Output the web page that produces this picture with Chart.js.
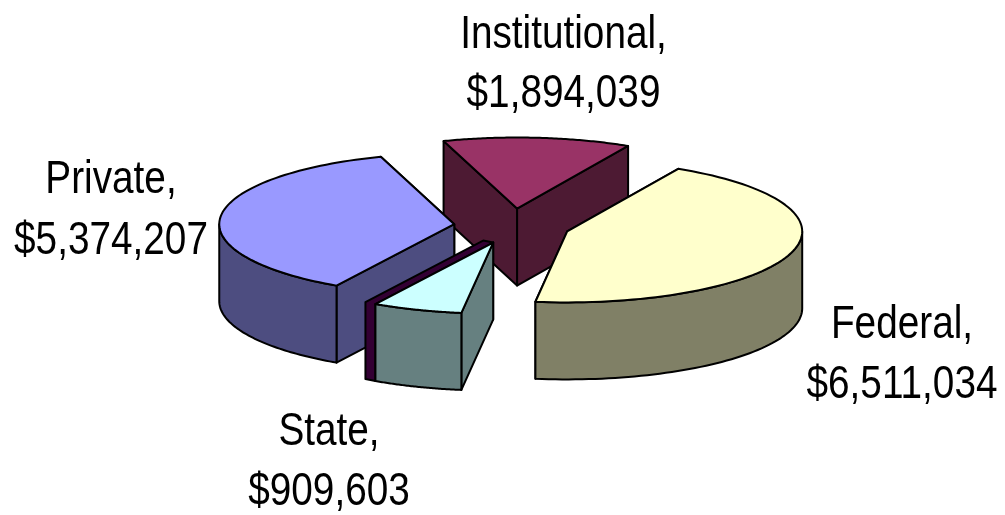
<!DOCTYPE html>
<html>
<head>
<meta charset="utf-8">
<style>html,body{margin:0;padding:0;background:#fff}canvas{display:block}</style>
<script src="https://cdn.jsdelivr.net/npm/chart.js@4"></script>
</head>
<body>
<canvas id="c" width="1005" height="515"></canvas>
<script>
const categories = ['Federal', 'State', 'Private', 'Institutional'];
const values = [6511034, 909603, 5374207, 1894039];
const topColors = ['#FFFFCC', '#CCFFFF', '#9999FF', '#993366'];
const sideColors = ['#808066', '#668080', '#4D4D80', '#4D1A33'];
const paintOrder = [3, 2, 0, 1];

// view of the tilted pie, as style constants
const VIEW = {cx: 512, cy: 226, rx: 235, ry: 71, depth: 77, explode: 0.247, rotation: 28.2};
const LABEL_SPOTS = [[902, 338, 398], [329, 445, 505], [111, 193, 254], [563.5, 48, 107]];
const FONT_PX = 46, FONT_SQUEEZE = 0.842;

function pt(arc, theta, r, drop) {
  const mid = (arc.startAngle + arc.endAngle) / 2;
  return [
    VIEW.cx + VIEW.rx * (VIEW.explode * Math.cos(mid) + r * Math.cos(theta)),
    VIEW.cy + VIEW.ry * (VIEW.explode * Math.sin(mid) + r * Math.sin(theta)) + drop
  ];
}
function poly(ctx, pts, fill) {
  ctx.beginPath();
  pts.forEach((p, i) => i ? ctx.lineTo(p[0], p[1]) : ctx.moveTo(p[0], p[1]));
  ctx.closePath();
  ctx.fillStyle = fill;
  ctx.fill();
  ctx.stroke();
}
function radialWall(ctx, arc, theta, fill) {
  const d = VIEW.depth;
  poly(ctx, [pt(arc, 0, 0, 0), pt(arc, theta, 1, 0), pt(arc, theta, 1, d), pt(arc, 0, 0, d)], fill);
}
function outerWall(ctx, arc, fill) {
  const a = Math.max(arc.startAngle, 0), b = Math.min(arc.endAngle, Math.PI);
  if (b <= a) return;
  const n = 60, up = [], down = [];
  for (let i = 0; i <= n; i++) {
    const t = a + (b - a) * i / n;
    up.push(pt(arc, t, 1, 0));
    down.unshift(pt(arc, t, 1, VIEW.depth));
  }
  poly(ctx, up.concat(down), fill);
}
function topOutline(ctx, arc) {
  const n = 80;
  ctx.beginPath();
  let p = pt(arc, 0, 0, 0);
  ctx.moveTo(p[0], p[1]);
  for (let i = 0; i <= n; i++) {
    p = pt(arc, arc.startAngle + (arc.endAngle - arc.startAngle) * i / n, 1, 0);
    ctx.lineTo(p[0], p[1]);
  }
  ctx.closePath();
  ctx.stroke();
}
const pie3d = {
  id: 'pie3d',
  beforeDatasetDraw(chart, args) {
    const ctx = chart.ctx;
    const arcs = chart.getDatasetMeta(args.index).data;
    ctx.save();
    ctx.lineWidth = 2;
    ctx.lineJoin = 'round';
    ctx.strokeStyle = '#000';
    paintOrder.forEach(i => {
      const arc = arcs[i];
      const mid = (arc.startAngle + arc.endAngle) / 2;
      if (i === 1) {
        // dark inner face standing behind the State slice
        const s = (p) => [p[0] - 10, p[1] - 2];
        const d = VIEW.depth;
        poly(ctx, [s(pt(arc, 0, 0, 0)), s(pt(arc, arc.endAngle, 1, 0)),
                   s(pt(arc, arc.endAngle, 1, d)), pt(arc, arc.endAngle, 1, d),
                   pt(arc, 0, 0, 0)], '#330033');
      }
      radialWall(ctx, arc, arc.endAngle, sideColors[i]);
      radialWall(ctx, arc, arc.startAngle, sideColors[i]);
      outerWall(ctx, arc, sideColors[i]);
      // top face: the library's own arc, under the tilt transform
      ctx.save();
      const R = arc.outerRadius;
      ctx.translate(VIEW.cx + VIEW.rx * VIEW.explode * Math.cos(mid),
                    VIEW.cy + VIEW.ry * VIEW.explode * Math.sin(mid));
      ctx.scale(VIEW.rx / R, VIEW.ry / R);
      ctx.translate(-arc.x, -arc.y);
      arc.draw(ctx);
      ctx.restore();
      topOutline(ctx, arc);
    });
    ctx.restore();
    return false;
  },
  afterDraw(chart) {
    const ctx = chart.ctx;
    ctx.save();
    ctx.fillStyle = '#000';
    ctx.textAlign = 'center';
    ctx.textBaseline = 'alphabetic';
    ctx.font = FONT_PX + 'px "Liberation Sans", Arial, sans-serif';
    categories.forEach((name, i) => {
      const [x, y1, y2] = LABEL_SPOTS[i];
      ctx.save();
      ctx.translate(x, 0);
      ctx.scale(FONT_SQUEEZE, 1);
      ctx.fillText(name + ',', 0, y1);
      ctx.fillText('$' + values[i].toLocaleString('en-US'), 0, y2);
      ctx.restore();
    });
    ctx.restore();
  }
};
new Chart(document.getElementById('c'), {
  type: 'pie',
  data: {
    labels: categories,
    datasets: [{data: values, backgroundColor: topColors, borderWidth: 0, offset: 0}]
  },
  options: {
    responsive: false,
    animation: false,
    rotation: VIEW.rotation,
    layout: {padding: 0},
    plugins: {legend: {display: false}, tooltip: {enabled: false}, title: {display: false}}
  },
  plugins: [pie3d]
});
</script>
</body>
</html>
